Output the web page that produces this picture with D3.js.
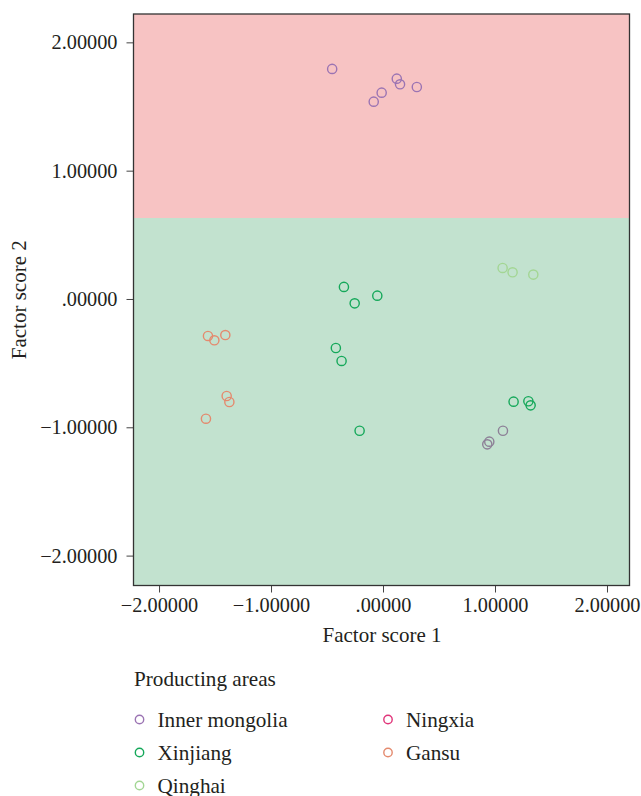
<!DOCTYPE html>
<html>
<head>
<meta charset="utf-8">
<script src="https://cdn.jsdelivr.net/npm/d3@7"></script>
<style>
  html, body { margin: 0; padding: 0; background: #fff; }
  svg { display: block; }
  text { font-family: "Liberation Serif", "DejaVu Serif", serif; fill: #231f20; }
</style>
</head>
<body>
<svg id="chart" width="641" height="796"></svg>
<script>
// ---- data ----
const seriesNames = ["Inner mongolia", "Ningxia", "Xinjiang", "Gansu", "Qinghai"];
const legendColors = ["#9b74b3", "#e0357a", "#15a85a", "#e48a6e", "#a3d694"];
const pointColors  = ["#9b74b3", "#8d8097", "#15a85a", "#e48a6e", "#a3d694"];

const innerMongoliaX = [-0.454, 0.123, 0.152, 0.302, -0.012, -0.083];
const innerMongoliaY = [1.793, 1.717, 1.673, 1.652, 1.608, 1.538];
const ningxiaX = [1.071, 0.949, 0.931];
const ningxiaY = [-1.027, -1.112, -1.133];
const xinjiangX = [-0.349, -0.051, -0.253, -0.421, -0.370, -0.209, 1.166, 1.298, 1.318];
const xinjiangY = [0.094, 0.026, -0.034, -0.382, -0.483, -1.027, -0.800, -0.797, -0.829];
const gansuX = [-1.563, -1.506, -1.408, -1.396, -1.372, -1.581];
const gansuY = [-0.288, -0.322, -0.281, -0.756, -0.803, -0.933];
const qinghaiX = [1.068, 1.157, 1.342];
const qinghaiY = [0.242, 0.208, 0.190];

const xTicks = [-2, -1, 0, 1, 2];
const yTicks = [-2, -1, 0, 1, 2];
const regionBoundary = 0.631;
const xDomain = [-2.228, 2.201];
const yDomain = [-2.233, 2.221];

const seriesX = [innerMongoliaX, ningxiaX, xinjiangX, gansuX, qinghaiX];
const seriesY = [innerMongoliaY, ningxiaY, xinjiangY, gansuY, qinghaiY];

// ---- layout ----
const svg = d3.select("#chart");
const L = 133.5, R = 629.5, T = 14, B = 585.5;
const x = d3.scaleLinear().domain(xDomain).range([L, R]);
const y = d3.scaleLinear().domain(yDomain).range([B, T]);

const fmt = v => {
  if (v === 0) return ".00000";
  const s = Math.abs(v).toFixed(5);
  return (v < 0 ? "\u2212" : "") + s;
};

// backgrounds
svg.append("rect").attr("x", L).attr("y", T).attr("width", R - L)
  .attr("height", y(regionBoundary) - T).attr("fill", "#f7c3c3");
svg.append("rect").attr("x", L).attr("y", y(regionBoundary)).attr("width", R - L)
  .attr("height", B - y(regionBoundary)).attr("fill", "#c2e2cf");

// axes
const xAxis = d3.axisBottom(x).tickValues(xTicks).tickFormat(fmt).tickSize(7).tickSizeOuter(0).tickPadding(5);
const yAxis = d3.axisLeft(y).tickValues(yTicks).tickFormat(fmt).tickSize(7).tickSizeOuter(0).tickPadding(9);

const gx = svg.append("g").attr("transform", `translate(0,${B})`).call(xAxis);
const gy = svg.append("g").attr("transform", `translate(${L},0)`).call(yAxis);
[gx, gy].forEach(g => {
  g.select(".domain").remove();
  g.selectAll(".tick line").attr("stroke", "#444").attr("stroke-width", 1);
  g.selectAll(".tick text").attr("font-size", 20.3).attr("fill", "#231f20")
    .style("font-family", '"Liberation Serif", serif');
});

// frame
svg.append("rect").attr("x", L).attr("y", T).attr("width", R - L).attr("height", B - T)
  .attr("fill", "none").attr("stroke", "#333").attr("stroke-width", 1.3);

// points
seriesNames.forEach((name, i) => {
  const pts = seriesX[i].map((vx, j) => [vx, seriesY[i][j]]);
  svg.append("g").selectAll("circle").data(pts).join("circle")
    .attr("cx", d => x(d[0])).attr("cy", d => y(d[1])).attr("r", 4.6)
    .attr("fill", "none").attr("stroke", pointColors[i]).attr("stroke-width", 1.4);
});

// axis titles
svg.append("text").attr("x", (L + R) / 2 + 0.5).attr("y", 642).attr("text-anchor", "middle")
  .attr("font-size", 21).text("Factor score 1");
svg.append("text").attr("transform", `translate(26,${(T + B) / 2}) rotate(-90)`)
  .attr("text-anchor", "middle").attr("font-size", 21).text("Factor score 2");

// legend
svg.append("text").attr("x", 134).attr("y", 686).attr("font-size", 21.2).text("Producting areas");
const legendOrder = ["Inner mongolia", "Xinjiang", "Qinghai", "Ningxia", "Gansu"];
legendOrder.forEach((name, k) => {
  const i = seriesNames.indexOf(name);
  const col = k < 3 ? 0 : 1;
  const row = k < 3 ? k : k - 3;
  const cx = col === 0 ? 139.5 : 388;
  const cy = 719.5 + row * 33;
  svg.append("circle").attr("cx", cx).attr("cy", cy).attr("r", 4.2)
    .attr("fill", "none").attr("stroke", legendColors[i]).attr("stroke-width", 1.4);
  svg.append("text").attr("x", cx + 18).attr("y", cy + 7).attr("font-size", 21.2).text(name);
});
</script>
</body>
</html>
